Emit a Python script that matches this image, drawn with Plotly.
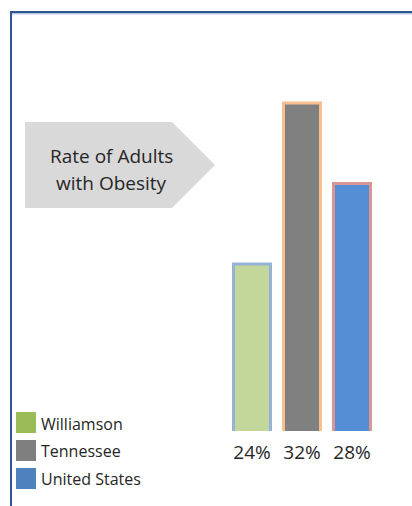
import plotly.graph_objects as go

# Data
regions = ["Williamson", "Tennessee", "United States"]
obesity_rate = [24, 32, 28]  # percent of adults

# Styles
bar_fill = ["#c4d79b", "#808080", "#558ed5"]
bar_edge = ["#95b3d7", "#fabf8f", "#da9694"]
swatch_fill = ["#9bbb59", "#7f7f7f", "#4f81bd"]
title_lines = ["Rate of Adults", "with Obesity"]

W, H = 412, 506
ML, MR, MT, MB = 227, 35, 60, 75
PW, PH = W - ML - MR, H - MT - MB


def px(x):
    return (x - ML) / PW


def py(y):
    return 1 - (y - MT) / PH


fig = go.Figure(
    go.Bar(
        x=regions,
        y=obesity_rate,
        marker=dict(color=bar_fill, line=dict(color=bar_edge, width=3)),
        hovertemplate="%{x}: %{y}%<extra></extra>",
    )
)

shapes = []
annotations = []

# Frame lines along the top and left edges
shapes.append(dict(type="line", xref="paper", yref="paper",
                   x0=px(10), x1=px(W), y0=py(12), y1=py(12),
                   line=dict(color="#2c5592", width=2)))
shapes.append(dict(type="line", xref="paper", yref="paper",
                   x0=px(12), x1=px(W), y0=py(13.8), y1=py(13.8),
                   line=dict(color="#8eaad8", width=1)))
shapes.append(dict(type="line", xref="paper", yref="paper",
                   x0=px(11), x1=px(11), y0=py(12), y1=py(H),
                   line=dict(color="#2c5592", width=2)))

# Arrow-shaped title box
pts = [(25, 122), (172, 122), (215, 165), (172, 208), (25, 208)]
path = "M " + " L ".join(f"{px(a):.5f},{py(b):.5f}" for a, b in pts) + " Z"
shapes.append(dict(type="path", xref="paper", yref="paper", path=path,
                   fillcolor="#d9d9d9", line=dict(width=0), layer="below"))
for i, line in enumerate(title_lines):
    annotations.append(dict(xref="paper", yref="paper", x=px(111), y=py(156 + 27 * i),
                            text=line, showarrow=False,
                            font=dict(family="Open Sans", size=19, color="#262626"),
                            xanchor="center", yanchor="middle", align="center"))

# Custom legend: coloured squares with region names
for i, (name, col) in enumerate(zip(regions, swatch_fill)):
    cy = 422.5 + 28 * i
    shapes.append(dict(type="rect", xref="paper", yref="paper",
                       x0=px(16), x1=px(36), y0=py(cy - 10.5), y1=py(cy + 10.5),
                       fillcolor=col, line=dict(width=0)))
    annotations.append(dict(xref="paper", yref="paper", x=px(39), y=py(cy + 1),
                            text=name, showarrow=False, xanchor="left",
                            yanchor="middle",
                            font=dict(family="Open Sans", size=16, color="#262626")))

fig.update_layout(
    width=W, height=H,
    margin=dict(l=ML, r=MR, t=MT, b=MB),
    paper_bgcolor="white", plot_bgcolor="white",
    showlegend=False,
    bargap=0.26,
    shapes=shapes,
    annotations=annotations,
    xaxis=dict(
        range=[-0.5, 2.5],
        tickvals=regions,
        ticktext=[f"{v}%" for v in obesity_rate],
        showgrid=False, zeroline=False, showline=False,
        ticks="outside", ticklen=4, tickcolor="rgba(0,0,0,0)",
        tickfont=dict(family="Open Sans", size=19, color="#262626"),
    ),
    yaxis=dict(range=[15.7, 15.7 + PH / 20.125], visible=False,
               showgrid=False, zeroline=False),
)

fig.write_html("out.html")
